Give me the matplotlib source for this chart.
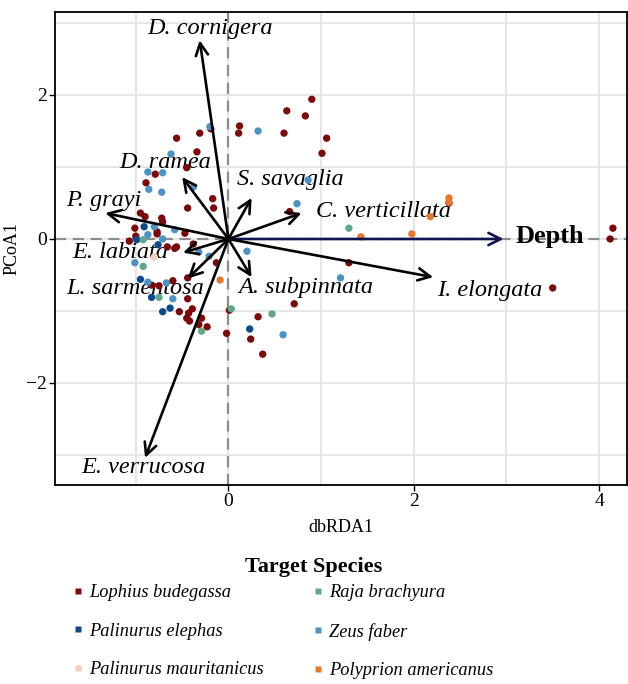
import matplotlib
matplotlib.use("Agg")
import matplotlib.pyplot as plt
from matplotlib.lines import Line2D

plt.rcParams['font.family'] = ['Liberation Serif', 'DejaVu Serif']

# ---- data ----
species = ["Lophius budegassa", "Palinurus elephas", "Palinurus mauritanicus",
           "Raja brachyura", "Zeus faber", "Polyprion americanus"]
colors = ["#7D0A0A", "#0B4A8B", "#F6CDB6", "#5FA98A", "#4A93C4", "#E8772E"]

lophius_x = [-0.19, -0.56, -0.31, 0.12, 0.11, 0.60, 0.63, 0.83, 0.90, 1.06, 1.01, -0.34,
             -0.79, -0.45, -0.89, -0.17, -0.16, -0.44, 0.66, -0.95, -0.90, -0.72, -0.71,
             -1.01, -0.77, -0.47, -1.07, -0.66, -1.00, -0.56, -0.38, -0.58, -0.13, -0.44,
             -0.83, -0.75, -0.60, -0.44, -0.53, -0.39, -0.43, -0.45, -0.42, -0.29, -0.32,
             -0.23, -0.02, 0.01, 0.32, 0.71, 0.24, 0.37, 1.30, 3.50, 4.15, 4.12, 2.38, -0.77]
lophius_y = [1.53, 1.40, 1.47, 1.57, 1.47, 1.47, 1.78, 1.71, 1.94, 1.40, 1.19, 1.21,
             0.90, 0.99, 0.78, 0.56, 0.43, 0.43, 0.38, 0.36, 0.31, 0.29, 0.24,
             0.15, 0.10, 0.08, -0.03, -0.11, 0.04, -0.11, -0.07, -0.13, -0.33, -0.54,
             -0.64, -0.65, -0.58, -0.83, -1.01, -0.97, -1.03, -1.10, -1.14, -1.10, -1.19,
             -1.22, -1.31, -0.99, -1.08, -0.90, -1.39, -1.60, -0.33, -0.68, 0.15, 0.00, 0.50, 0.07]

elephas_x = [-0.95, -0.83, -0.71, -0.63, 0.23, -0.91, -0.99, -0.76]
elephas_y = [-0.56, -0.81, -1.01, -0.96, -1.25, 0.17, -0.01, -0.08]

mauritanicus_x = [-0.80]
mauritanicus_y = [-0.25]

raja_x = [-0.92, -0.92, -0.75, -0.29, 0.03, 0.47, 1.30]
raja_y = [-0.01, -0.38, -0.81, -1.28, -0.97, -1.04, 0.15]

zeus_x = [-0.20, 0.32, -0.62, -0.87, -0.71, -0.86, -0.72, -0.38, 0.74, 0.86, -0.80, -0.58,
          -0.87, -0.71, -0.32, -0.21, -1.01, -0.87, -0.67, -0.60, 0.20, 0.59, 1.21]
zeus_y = [1.56, 1.50, 1.18, 0.93, 0.92, 0.69, 0.65, 0.72, 0.49, 0.82, 0.17, 0.13,
          0.06, 0.00, -0.18, -0.24, -0.33, -0.60, -0.61, -0.83, -0.17, -1.33, -0.54]

polyprion_x = [2.38, 2.38, 2.18, 1.43, 1.98, -0.09]
polyprion_y = [0.57, 0.51, 0.31, 0.03, 0.07, -0.57]

series_x = [lophius_x, elephas_x, mauritanicus_x, raja_x, zeus_x, polyprion_x]
series_y = [lophius_y, elephas_y, mauritanicus_y, raja_y, zeus_y, polyprion_y]

arrow_names = ["D. cornigera", "D. ramea", "P. grayi", "S. savaglia", "C. verticillata",
               "Depth", "I. elongata", "A. subpinnata", "L. sarmentosa", "E. labiata",
               "E. verrucosa"]
arrow_x = [-0.31, -0.50, -1.33, 0.25, 0.79, 2.97, 2.21, 0.25, -0.44, -0.49, -0.90]
arrow_y = [2.76, 0.86, 0.36, 0.57, 0.36, 0.00, -0.53, -0.53, -0.55, -0.19, -3.04]
label_x = [-0.20, -0.68, -1.35, 0.67, 1.67, 3.47, 2.82, 0.83, -1.01, -1.17, -0.92]
label_y = [2.92, 1.06, 0.54, 0.82, 0.38, 0.04, -0.72, -0.68, -0.69, -0.19, -3.18]

x_ticks = [0, 2, 4]
y_ticks = [-2, 0, 2]

# ---- figure ----
fig = plt.figure(figsize=(6.28, 6.84), dpi=100)
ax = fig.add_axes([0.0876, 0.2909, 0.9105, 0.6916])
ax.set_xlim(-1.872, 4.30)
ax.set_ylim(-3.417, 3.153)

for v in range(-1, 5):
    ax.axvline(v, color="#E6E6E6", lw=1.4, zorder=0)
for v in range(-3, 4):
    ax.axhline(v, color="#E6E6E6", lw=1.4, zorder=0)
ax.axvline(0, color="#8C8C8C", lw=1.6, ls=(0, (5, 3)), zorder=1)
ax.axhline(0, color="#8C8C8C", lw=1.6, ls=(0, (5, 3)), zorder=1)

for name, lx, ly in zip(arrow_names, label_x, label_y):
    if name == "Depth":
        ax.text(lx, ly, name, fontsize=19, fontweight="bold", ha="center", va="center", zorder=2)
    else:
        ax.text(lx, ly, name, fontsize=17.5, style="italic", ha="center", va="center", zorder=2)

for sx, sy, c in zip(series_x, series_y, colors):
    ax.scatter(sx, sy, s=28, color=c, edgecolors="none", zorder=3)

for name, ax_, ay_ in zip(arrow_names, arrow_x, arrow_y):
    col = "#0D1450" if name == "Depth" else "black"
    ax.annotate("", xy=(ax_, ay_), xytext=(0, 0),
                arrowprops=dict(arrowstyle="->", color=col, lw=1.9,
                                mutation_scale=22, shrinkA=0, shrinkB=0),
                zorder=4)

ax.set_xticks(x_ticks)
ax.set_yticks(y_ticks)
ax.set_xticklabels([str(t) for t in x_ticks])
ax.set_yticklabels(["\u22122", "0", "2"])
ax.tick_params(axis="both", labelsize=14, length=4, width=1, color="black", pad=2)
for s in ax.spines.values():
    s.set_linewidth(1.3)
    s.set_color("black")
ax.set_xlabel("dbRDA1", fontsize=13, labelpad=6)
ax.set_ylabel("PCoA1", fontsize=13, labelpad=4)

# ---- legend ----
fig.text(0.5, 1 - 567 / 684, "Target Species", fontsize=16, fontweight="bold",
         ha="center", va="center")
handles = [Line2D([0], [0], marker="s", color="none", markerfacecolor=c,
                  markeredgecolor="none", markersize=5) for c in colors]
leg_kw = dict(loc="upper left", frameon=False, ncol=1, borderpad=0, borderaxespad=0,
              prop={"style": "italic", "size": 13.2},
              handlelength=0.6, handletextpad=0.3, labelspacing=1.18)
leg1 = fig.legend(handles[:3], species[:3], bbox_to_anchor=(72.5 / 628, 1 - 584 / 684), **leg_kw)
leg2 = fig.legend(handles[3:], species[3:], bbox_to_anchor=(312.5 / 628, 1 - 584 / 684), **leg_kw)

fig.savefig("out.png", dpi=100)
